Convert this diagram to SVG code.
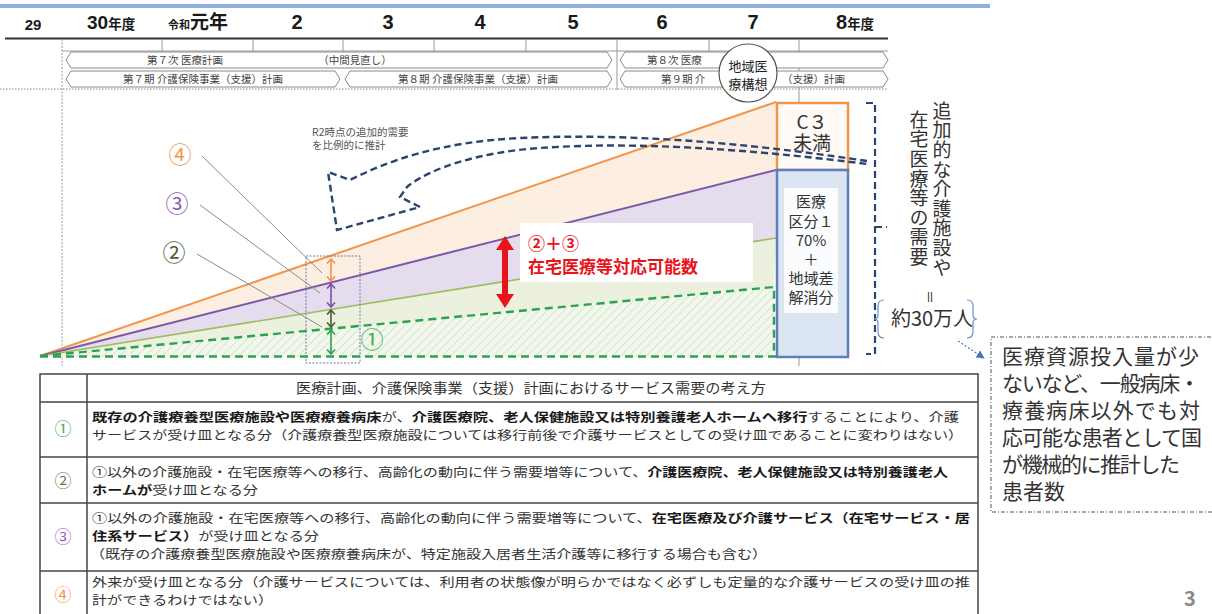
<svg xmlns="http://www.w3.org/2000/svg" width="1212" height="614" viewBox="0 0 1212 614" fill="#333">
<defs>
<style>
text{font-family:"Noto Sans CJK JP","Noto Sans",sans-serif}
.yr{font-family:"Liberation Sans","Noto Sans CJK JP",sans-serif;font-weight:700;fill:#1a1a1a}
.yrj{font-family:"Noto Sans CJK JP",sans-serif;font-weight:700;fill:#1a1a1a}
.band{fill:#fff;stroke:#8a8a8a;stroke-width:1}
.bt{font-size:10.5px;fill:#444}
.lead{stroke:#8c8c8c;stroke-width:1;fill:none}
.nav{stroke:#2c4470;stroke-width:2.4;fill:none;stroke-dasharray:7 4}
.tb{stroke:#444;stroke-width:1.5;fill:none}
.tr{font-size:12.3px;fill:#333}
.b{font-weight:700;fill:#1a1a1a}
.vt{font-size:19px;fill:#333;writing-mode:vertical-rl;text-orientation:upright;letter-spacing:0.6px}
.rt{font-size:21px;fill:#333}
</style>
<pattern id="hatch" width="6" height="6" patternUnits="userSpaceOnUse" patternTransform="rotate(45)">
<rect width="6" height="6" fill="#f3f8ee"/>
<line x1="0" y1="0" x2="0" y2="6" stroke="#c4dcb2" stroke-width="1.2"/>
</pattern>
<marker id="bluehead" viewBox="0 0 10 10" refX="9" refY="5" markerWidth="7" markerHeight="7" orient="auto">
<path d="M0,0 L10,5 L0,10 Z" fill="#4a74c0"/>
</marker>
</defs>

<g id="timeline">
<line x1="0" y1="6" x2="990" y2="6" stroke="#8fb3dc" stroke-width="4"/>
<text class="yr" x="33" y="30" font-size="15" text-anchor="middle">29</text>
<text x="87" y="29"><tspan class="yr" font-size="19">30</tspan><tspan class="yrj" font-size="13.5">年度</tspan></text>
<text x="168" y="29"><tspan class="yrj" font-size="11">令和</tspan><tspan class="yrj" font-size="19">元年</tspan></text>
<text class="yr" x="297" y="29" font-size="20" text-anchor="middle">2</text>
<text class="yr" x="388" y="29" font-size="20" text-anchor="middle">3</text>
<text class="yr" x="480" y="29" font-size="20" text-anchor="middle">4</text>
<text class="yr" x="573" y="29" font-size="20" text-anchor="middle">5</text>
<text class="yr" x="662" y="29" font-size="20" text-anchor="middle">6</text>
<text class="yr" x="753" y="29" font-size="20" text-anchor="middle">7</text>
<text x="836" y="29"><tspan class="yr" font-size="20">8</tspan><tspan class="yrj" font-size="13.5">年度</tspan></text>
<line x1="5" y1="38.5" x2="888" y2="38.5" stroke="#333" stroke-width="2"/>
<line x1="62" y1="51" x2="888" y2="51" stroke="#999" stroke-width="1"/>
<g stroke="#999" stroke-width="1">
<line x1="162" y1="39" x2="162" y2="52"/>
<line x1="253" y1="39" x2="253" y2="52"/>
<line x1="343" y1="39" x2="343" y2="52"/>
<line x1="434" y1="39" x2="434" y2="52"/>
<line x1="526" y1="39" x2="526" y2="52"/>
<line x1="617" y1="39" x2="617" y2="90"/>
<line x1="709" y1="39" x2="709" y2="52"/>
<line x1="799" y1="39" x2="799" y2="103"/>
<line x1="799" y1="357" x2="799" y2="366"/>
</g>
<line x1="62" y1="39" x2="62" y2="366" stroke="#999" stroke-width="1" stroke-dasharray="2 1.5"/>
<line x1="0" y1="89" x2="888" y2="89" stroke="#888" stroke-width="1" stroke-dasharray="1.5 1.5"/>
</g>

<g id="band-iryo7">
<path class="band" d="M66,60 L71,52 L607,52 L612,60 L607,68 L71,68 Z"/>
<text class="bt" x="185" y="64" text-anchor="middle">第７次 医療計画</text>
<text class="bt" x="355" y="64" text-anchor="middle">（中間見直し）</text>
</g>
<g id="band-kaigo7">
<path class="band" d="M66,79 L71,71 L335,71 L340,79 L335,87 L71,87 Z"/>
<text class="bt" x="203" y="83" text-anchor="middle">第７期 介護保険事業（支援）計画</text>
</g>
<g id="band-kaigo8">
<path class="band" d="M345,79 L350,71 L607,71 L612,79 L607,87 L350,87 Z"/>
<text class="bt" x="478" y="83" text-anchor="middle">第８期 介護保険事業（支援）計画</text>
</g>
<g id="band-iryo8">
<path class="band" d="M620,60 L625,52 L883,52 L888,60 L883,68 L625,68 Z"/>
<text class="bt" x="647" y="64">第８次 医療</text>
</g>
<g id="band-kaigo9">
<path class="band" d="M620,79 L625,71 L883,71 L888,79 L883,87 L625,87 Z"/>
<text class="bt" x="661" y="83">第９期 介</text>
<text class="bt" x="845" y="83" text-anchor="end">（支援）計画</text>
</g>
<g id="chiiki-kousou">
<circle cx="748" cy="73" r="29" fill="#fff" stroke="#555" stroke-width="1.2"/>
<text x="748" y="71" font-size="13" text-anchor="middle" fill="#222">地域医</text>
<text x="748" y="89" font-size="13" text-anchor="middle" fill="#222">療構想</text>
</g>

<g id="chart-areas">
<polygon points="40,356 776,102 776,170" fill="#fdeee2"/>
<polygon points="40,356 776,170 776,238" fill="#e5dcee"/>
<polygon points="40,356 776,238 774,287" fill="#ebf1de"/>
<polygon points="40,356 774,287 774,357 40,357" fill="url(#hatch)"/>
<line x1="40" y1="356" x2="776" y2="102" stroke="#f0954a" stroke-width="2"/>
<line x1="40" y1="356" x2="776" y2="170" stroke="#7a5aa6" stroke-width="2"/>
<line x1="40" y1="356" x2="776" y2="238" stroke="#9cbd5e" stroke-width="1.6"/>
<path d="M40,356 L774,287 L774,357" stroke="#2ca24f" stroke-width="2.4" fill="none" stroke-dasharray="8 5"/>
<line x1="40" y1="356.5" x2="776" y2="356.5" stroke="#2ca24f" stroke-width="2.4" stroke-dasharray="8 5"/>
</g>

<g id="box-c3">
<rect x="777" y="103" width="71" height="67" fill="#fffaf6" stroke="#f0954a" stroke-width="2.5"/>
<text x="812" y="129" font-size="19" text-anchor="middle">C３</text>
<text x="812" y="150" font-size="19" text-anchor="middle">未満</text>
</g>
<g id="box-kubun1">
<rect x="777" y="170" width="71" height="187" fill="#dce6f2" stroke="#5b7fbf" stroke-width="2.5"/>
<rect x="784" y="188" width="54" height="125" fill="#fff" opacity="0.85"/>
<g font-size="15" text-anchor="middle">
<text x="811" y="207">医療</text>
<text x="811" y="227">区分１</text>
<text x="811" y="246">70%</text>
<text x="811" y="265">＋</text>
<text x="811" y="284">地域差</text>
<text x="811" y="303">解消分</text>
</g>
</g>

<g id="connectors">
<line class="lead" x1="202" y1="156" x2="322" y2="273"/>
<line class="lead" x1="200" y1="205" x2="320" y2="293"/>
<line class="lead" x1="197" y1="254" x2="322" y2="327"/>
<rect x="306" y="256" width="54" height="107" fill="none" stroke="#6a7a99" stroke-width="1" stroke-dasharray="2 1.5"/>
<path d="M331,259 L331,281 M327,263.5 L331,259 L335,263.5 M327,276.5 L331,281 L335,276.5" stroke="#f0954a" stroke-width="1.6" fill="none"/>
<path d="M331,284 L331,307 M327,288.5 L331,284 L335,288.5 M327,302.5 L331,307 L335,302.5" stroke="#7a4fb0" stroke-width="1.6" fill="none"/>
<path d="M331,310 L331,327 M327,314.5 L331,310 L335,314.5 M327,322.5 L331,327 L335,322.5" stroke="#4f5a3a" stroke-width="1.6" fill="none"/>
<path d="M331,330 L331,354 M327,334.5 L331,330 L335,334.5 M327,349.5 L331,354 L335,349.5" stroke="#2ca24f" stroke-width="1.6" fill="none"/>
<path d="M505,236 L514,250 L508,250 L508,294 L514,294 L505,308 L496,294 L502,294 L502,250 L496,250 Z" fill="#e8141b"/>
<path class="nav" d="M867,161 C780,148 650,132 520,138 C440,142 390,160 350,180 L328,172 L337,230 L420,207 L400,197 L407,187 C430,168 480,152 540,148 C650,140 780,153 867,164"/>
<path d="M866,103 L875,103 L875,354 L866,354 M875,227 L887,227" stroke="#2c4470" stroke-width="2.2" fill="none" stroke-dasharray="7 4"/>
<path d="M884,300 Q878,300 878,306 L878,315 Q878,319 874,319 Q878,319 878,323 L878,332 Q878,338 884,338" stroke="#6a8fcf" stroke-width="1.2" fill="none"/>
<path d="M967,300 Q973,300 973,306 L973,315 Q973,319 977,319 Q973,319 973,323 L973,332 Q973,338 967,338" stroke="#6a8fcf" stroke-width="1.2" fill="none"/>
<path d="M958,341 L984,358" stroke="#4a74c0" stroke-width="1.2" stroke-dasharray="2 2" fill="none" marker-end="url(#bluehead)"/>
</g>

<g id="labels-chart">
<text x="180" y="163" font-size="23" text-anchor="middle" style="fill:#f0954a">④</text>
<text x="177" y="212" font-size="23" text-anchor="middle" style="fill:#8e5ab5">③</text>
<text x="174" y="261" font-size="23" text-anchor="middle" style="fill:#4f5a3a">②</text>
<text x="372" y="348" font-size="23" text-anchor="middle" style="fill:#3cae5a">①</text>
<text x="312" y="136" font-size="10.5" style="fill:#555">R2時点の追加的需要</text>
<text x="312" y="149" font-size="10.5" style="fill:#555">を比例的に推計</text>
</g>

<g id="label-zaitaku">
<rect x="520" y="223" width="233" height="59" fill="#fff"/>
<text x="528" y="250" font-size="17" font-weight="700" style="fill:#e8141b">②＋③</text>
<text x="528" y="273" font-size="17" font-weight="700" style="fill:#e8141b">在宅医療等対応可能数</text>
</g>

<g id="label-juyou">
<text class="vt" x="942" y="101">追加的な介護施設や</text>
<text class="vt" x="919" y="110">在宅医療等の需要</text>
<text x="0" y="0" font-size="14" text-anchor="middle" transform="translate(930,297) rotate(90)" dy="5">＝</text>
<text x="932" y="326" font-size="20" text-anchor="middle">約30万人</text>
</g>

<g id="note-box">
<rect x="991" y="337" width="230" height="175" fill="#fff" stroke="#555" stroke-width="1" stroke-dasharray="4 2 1 2"/>
<text class="rt" x="1002" y="364" textLength="197">医療資源投入量が少</text>
<text class="rt" x="1002" y="391" textLength="198">ないなど、一般病床・</text>
<text class="rt" x="1002" y="418" textLength="198">療養病床以外でも対</text>
<text class="rt" x="1002" y="445" textLength="200">応可能な患者として国</text>
<text class="rt" x="1002" y="472" textLength="178">が機械的に推計した</text>
<text class="rt" x="1002" y="499">患者数</text>
</g>

<g id="table">
<rect class="tb" x="40" y="374" width="938" height="250"/>
<line class="tb" x1="87" y1="374" x2="87" y2="614"/>
<line class="tb" x1="40" y1="402" x2="978" y2="402"/>
<line class="tb" x1="40" y1="457" x2="978" y2="457"/>
<line class="tb" x1="40" y1="503" x2="978" y2="503"/>
<line class="tb" x1="40" y1="571" x2="978" y2="571"/>
<text x="531" y="393" font-size="13.5" text-anchor="middle" textLength="470" lengthAdjust="spacingAndGlyphs">医療計画、介護保険事業（支援）計画におけるサービス需要の考え方</text>
<text x="63" y="435" font-size="17" text-anchor="middle" style="fill:#3cae5a">①</text>
<text x="63" y="487" font-size="17" text-anchor="middle" style="fill:#6f7a55">②</text>
<text x="63" y="543" font-size="17" text-anchor="middle" style="fill:#9a5ec8">③</text>
<text x="63" y="601" font-size="17" text-anchor="middle" style="fill:#f0954a">④</text>
<text class="tr" x="92" y="422" textLength="867" lengthAdjust="spacingAndGlyphs"><tspan class="b">既存の介護療養型医療施設や医療療養病床</tspan>が、<tspan class="b">介護医療院、老人保健施設又は特別養護老人ホームへ移行</tspan>することにより、介護</text>
<text class="tr" x="92" y="440" textLength="871" lengthAdjust="spacingAndGlyphs">サービスが受け皿となる分（介護療養型医療施設については移行前後で介護サービスとしての受け皿であることに変わりはない）</text>
<text class="tr" x="92" y="477" textLength="856" lengthAdjust="spacingAndGlyphs">①以外の介護施設・在宅医療等への移行、高齢化の動向に伴う需要増等について、<tspan class="b">介護医療院、老人保健施設又は特別養護老人</tspan></text>
<text class="tr" x="92" y="495" textLength="166" lengthAdjust="spacingAndGlyphs"><tspan class="b">ホームが</tspan>受け皿となる分</text>
<text class="tr" x="92" y="523" textLength="878" lengthAdjust="spacingAndGlyphs">①以外の介護施設・在宅医療等への移行、高齢化の動向に伴う需要増等について、<tspan class="b">在宅医療及び介護サービス（在宅サービス・居</tspan></text>
<text class="tr" x="92" y="541" textLength="227" lengthAdjust="spacingAndGlyphs"><tspan class="b">住系サービス）</tspan>が受け皿となる分</text>
<text class="tr" x="90" y="559" textLength="677" lengthAdjust="spacingAndGlyphs">（既存の介護療養型医療施設や医療療養病床が、特定施設入居者生活介護等に移行する場合も含む）</text>
<text class="tr" x="92" y="587" textLength="878" lengthAdjust="spacingAndGlyphs">外来が受け皿となる分（介護サービスについては、利用者の状態像が明らかではなく必ずしも定量的な介護サービスの受け皿の推</text>
<text class="tr" x="92" y="605" textLength="181" lengthAdjust="spacingAndGlyphs">計ができるわけではない）</text>
</g>

<text x="1190" y="606" font-size="20" font-weight="700" text-anchor="middle" style="fill:#888">3</text>
</svg>
